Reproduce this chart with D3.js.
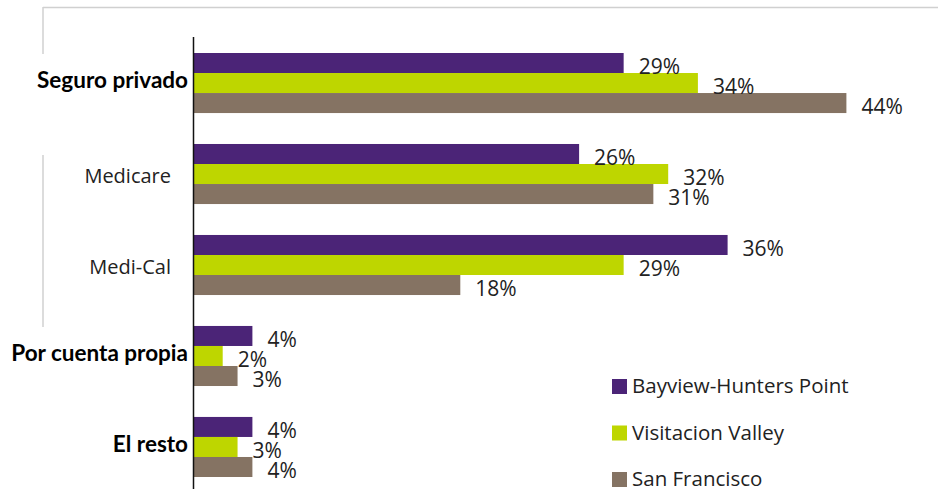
<!DOCTYPE html>
<html><head><meta charset="utf-8">
<script src="https://cdn.jsdelivr.net/npm/d3@7/dist/d3.min.js"></script>
<style>body{margin:0;background:#fff}svg{display:block}</style>
</head><body>
<script>
const categories = ["Seguro privado","Medicare","Medi-Cal","Por cuenta propia","El resto"];
const boldCategories = ["Seguro privado","Por cuenta propia","El resto"];
const seriesNames = ["Bayview-Hunters Point","Visitacion Valley","San Francisco"];
const bayview = [29,26,36,4,4];
const visitacion = [34,32,29,2,3];
const sanFrancisco = [44,31,18,3,4];
const colors = ["#4B2477","#BED600","#857363"];
const seriesValues = [bayview, visitacion, sanFrancisco];

const W=939,H=489;
const svg=d3.select("body").append("svg").attr("width",W).attr("height",H);

// frame lines
svg.append("line").attr("x1",43).attr("x2",938).attr("y1",7.5).attr("y2",7.5).attr("stroke","#d0d0d0").attr("stroke-width",1.5);
svg.append("line").attr("x1",43).attr("x2",43).attr("y1",7).attr("y2",54).attr("stroke","#d0d0d0").attr("stroke-width",1.5);
svg.append("line").attr("x1",43).attr("x2",43).attr("y1",155).attr("y2",327).attr("stroke","#d0d0d0").attr("stroke-width",1.5);

const x=d3.scaleLinear().domain([0,50]).range([193,193+742.5]);
const y0=d3.scaleBand().domain(categories).range([53,477]).paddingInner(0.34);
const y1=d3.scaleBand().domain(seriesNames).range([0,y0.bandwidth()]);

const data=[];
categories.forEach((c,i)=>seriesNames.forEach((s,j)=>data.push({c,s,j,v:seriesValues[j][i]})));

svg.selectAll("rect.bar").data(data).join("rect").attr("class","bar")
  .attr("x",x(0)).attr("y",d=>y0(d.c)+y1(d.s))
  .attr("width",d=>x(d.v)-x(0)).attr("height",y1.bandwidth())
  .attr("fill",d=>colors[d.j]);

svg.selectAll("text.val").data(data).join("text").attr("class","val")
  .attr("x",d=>x(d.v)+15).attr("y",d=>y0(d.c)+y1(d.s)+y1.bandwidth()+1)
  .attr("font-family","'Open Sans'").attr("font-size",21).attr("fill","#222")
  .text(d=>d.v+"%");

// axis line
svg.append("line").attr("x1",193.5).attr("x2",193.5).attr("y1",37).attr("y2",489).attr("stroke","#111").attr("stroke-width",1.5);

// category labels
svg.selectAll("text.cat").data(categories).join("text").attr("class","cat")
  .attr("x",d=>boldCategories.includes(d)?188:171)
  .attr("y",d=>y0(d)+y0.bandwidth()/2+(boldCategories.includes(d)?5:9))
  .attr("text-anchor","end")
  .attr("font-family",d=>boldCategories.includes(d)?"Lato":"'Open Sans'")
  .attr("font-weight",d=>boldCategories.includes(d)?"bold":"normal")
  .attr("font-size",d=>boldCategories.includes(d)?22.5:20).attr("fill",d=>boldCategories.includes(d)?"#000":"#222")
  .text(d=>d);

// legend
const lg=svg.append("g");
seriesNames.forEach((s,j)=>{
  const ty=379+j*46.5;
  lg.append("rect").attr("x",612).attr("y",ty).attr("width",15).attr("height",15).attr("fill",colors[j]);
  lg.append("text").attr("x",632).attr("y",ty+14).attr("font-family","'Open Sans'").attr("font-size",20.5).attr("fill","#222").text(s);
});
</script>
</body></html>
